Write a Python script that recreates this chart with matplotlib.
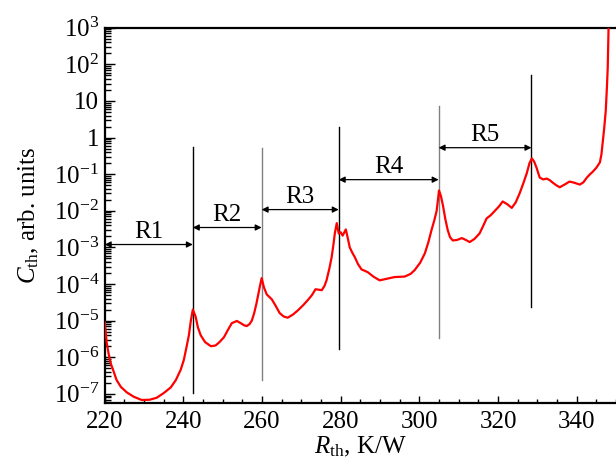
import matplotlib
matplotlib.use('Agg')
import matplotlib.pyplot as plt
from matplotlib.ticker import FixedLocator, FixedFormatter, LogLocator, MultipleLocator, NullFormatter

plt.rcParams['font.family'] = ['Liberation Serif', 'DejaVu Serif']
plt.rcParams['mathtext.fontset'] = 'custom'
plt.rcParams['mathtext.rm'] = 'Liberation Serif'
plt.rcParams['mathtext.it'] = 'Liberation Serif:italic'

# thermal resistance, K/W
r_th = [220.0, 220.25, 220.5, 221.0, 221.5, 222.3, 223.0, 224.1, 225.6, 227.4,
        229.4, 231.4, 233.2, 235.0, 236.8, 238.1, 239.3, 240.1, 240.8, 241.4,
        241.9, 242.4, 243.1, 243.7, 244.4, 245.5, 247.0, 248.2, 249.2, 250.3,
        251.3, 252.3, 253.6, 254.6, 255.4, 256.1, 256.8, 257.4, 258.0, 258.6,
        259.4, 259.9, 260.5, 261.2, 262.5, 263.5, 264.5, 265.5, 266.5, 267.8,
        269.1, 270.4, 271.6, 272.7, 273.6, 274.4, 275.2, 275.9, 276.4, 277.1,
        277.7, 278.2, 278.5, 279.0, 279.5, 280.0, 280.5, 281.3, 281.8, 282.3,
        283.0, 283.6, 284.4, 285.3, 286.1, 286.9, 288.3, 289.9, 291.8, 293.7,
        296.3, 297.8, 298.8, 300.2, 301.4, 302.3, 303.1, 303.8, 304.4, 305.0,
        305.5, 306.0, 306.6, 307.2, 307.8, 308.5, 309.6, 310.8, 311.8, 312.8,
        314.0, 315.3, 316.2, 317.1, 318.1, 319.2, 320.2, 321.2, 322.4, 323.5,
        324.5, 325.5, 326.4, 327.3, 328.0, 328.6, 329.2, 329.8, 330.6, 331.5,
        332.4, 333.2, 333.9, 334.8, 335.7, 336.9, 338.2, 339.5, 340.8, 341.7,
        342.6, 343.4, 344.1, 345.0, 345.9, 346.3, 346.6, 347.0, 347.4, 347.7,
        347.9, 348.1, 348.2]
# thermal capacitance, arb. units
c_th = [9.1e-6, 4.7e-6, 2.5e-6, 1.23e-6, 6.9e-7, 4.0e-7, 2.4e-7, 1.55e-7, 1.1e-7, 8.3e-8,
        6.8e-8, 6.9e-8, 7.8e-8, 1.05e-7, 1.5e-7, 2.4e-7, 4.5e-7, 8.3e-7, 1.9e-6, 4.0e-6,
        1.0e-5, 2.0e-5, 1.3e-5, 6.5e-6, 4.0e-6, 2.6e-6, 2.0e-6, 2.1e-6, 2.6e-6, 3.5e-6,
        5.5e-6, 8.5e-6, 9.8e-6, 8.5e-6, 7.5e-6, 7.1e-6, 8.0e-6, 1.0e-5, 1.6e-5, 3.0e-5,
        8.1e-5, 1.45e-4, 8.0e-5, 5.2e-5, 3.8e-5, 2.5e-5, 1.6e-5, 1.3e-5, 1.2e-5, 1.45e-5,
        1.9e-5, 2.6e-5, 3.6e-5, 5.0e-5, 7.2e-5, 7.0e-5, 6.8e-5, 9.0e-5, 1.26e-4, 2.6e-4,
        5.4e-4, 1.3e-3, 2.4e-3, 4.6e-3, 2.4e-3, 2.6e-3, 2.1e-3, 3.1e-3, 1.8e-3, 1.0e-3,
        7.0e-4, 5.4e-4, 3.5e-4, 2.5e-4, 2.3e-4, 2.1e-4, 1.6e-4, 1.26e-4, 1.4e-4, 1.55e-4,
        1.6e-4, 1.9e-4, 2.4e-4, 3.8e-4, 6.9e-4, 1.4e-3, 3.0e-3, 5.5e-3, 1.0e-2, 3.6e-2,
        2.5e-2, 1.4e-2, 6.0e-3, 3.0e-3, 1.9e-3, 1.55e-3, 1.6e-3, 1.8e-3, 1.6e-3, 1.4e-3,
        1.7e-3, 2.4e-3, 3.8e-3, 6.2e-3, 7.5e-3, 1.0e-2, 1.3e-2, 1.8e-2, 1.5e-2, 1.2e-2,
        1.7e-2, 3.0e-2, 5.5e-2, 0.105, 0.2, 0.27, 0.22, 0.15, 0.081, 0.072,
        0.076, 0.068, 0.059, 0.05, 0.044, 0.052, 0.063, 0.058, 0.052, 0.06,
        0.081, 0.1, 0.117, 0.15, 0.21, 0.35, 0.69, 1.8, 5.5, 25.0,
        81.0, 930.0, 2000.0]

# region boundaries: x, bottom, top, colour
bound_x = [242.4, 259.9, 279.5, 304.9, 328.5]
bound_lo = [1.05e-7, 2.4e-7, 1.7e-6, 3.3e-6, 2.3e-5]
bound_hi = [0.57, 0.53, 1.9, 7.4, 52.0]
bound_col = ['black', '#808080', 'black', '#808080', 'black']

# regions: label, left, right, arrow height
reg_labels = ['R1', 'R2', 'R3', 'R4', 'R5']
reg_left = [220.0, 242.4, 259.9, 279.5, 304.9]
reg_right = [242.4, 259.9, 279.5, 304.9, 328.5]
reg_y = [1.2e-3, 3.5e-3, 1.08e-2, 7.1e-2, 0.53]

ytick_vals = [1e-7, 1e-6, 1e-5, 1e-4, 1e-3, 1e-2, 1e-1, 1, 10, 100, 1000]
ytick_labels = ['$10^{-7}$', '$10^{-6}$', '$10^{-5}$', '$10^{-4}$', '$10^{-3}$',
                '$10^{-2}$', '$10^{-1}$', '1', '10', '$10^{2}$', '$10^{3}$']

fig = plt.figure(figsize=(6.16, 4.63), dpi=100)
ax = fig.add_axes([0.170, 0.1296, 0.830, 0.8104])

ax.plot(r_th, c_th, color='#ff0000', lw=1.6, zorder=3, solid_joinstyle='round')

for x, lo, hi, col in zip(bound_x, bound_lo, bound_hi, bound_col):
    ax.plot([x, x], [lo, hi], color=col, lw=1.0, zorder=2)

for lab, xl, xr, y in zip(reg_labels, reg_left, reg_right, reg_y):
    ax.annotate('', xy=(xl, y), xytext=(xr, y),
                arrowprops=dict(arrowstyle='<|-|>', color='black', lw=0.9,
                                mutation_scale=9, shrinkA=0, shrinkB=0))
    ax.annotate(lab, xy=((xl + xr) / 2, y), xytext=(0, 5), textcoords='offset points',
                ha='center', va='baseline', fontsize=18)

ax.set_yscale('log')
ax.set_xlim(220, 350)
ax.set_ylim(10 ** -7.25, 1e3)

ax.yaxis.set_major_locator(FixedLocator(ytick_vals))
ax.yaxis.set_major_formatter(FixedFormatter(ytick_labels))
ax.yaxis.set_minor_locator(LogLocator(base=10, subs=range(2, 10), numticks=30))
ax.yaxis.set_minor_formatter(NullFormatter())
ax.xaxis.set_major_locator(MultipleLocator(20))
ax.xaxis.set_minor_locator(MultipleLocator(5))

ax.tick_params(which='both', direction='in', labelsize=18, width=1.0)
ax.tick_params(axis='y', which='major', length=7, pad=4)
ax.tick_params(axis='y', which='minor', length=4)
ax.tick_params(axis='x', which='major', length=5, pad=6)
ax.tick_params(axis='x', which='minor', length=3)

for side in ['left', 'bottom', 'top']:
    ax.spines[side].set_linewidth(1.6)
ax.spines['right'].set_visible(False)

ax.set_ylabel(r'$C_{\mathrm{th}}$, arb. units', fontsize=18)
ax.set_xlabel(r'$R_{\mathrm{th}}$, K/W', fontsize=18)
ax.yaxis.set_label_coords(-0.125, 0.5)
ax.xaxis.set_label_coords(0.5, -0.085)

fig.savefig('out.png', dpi=100)
